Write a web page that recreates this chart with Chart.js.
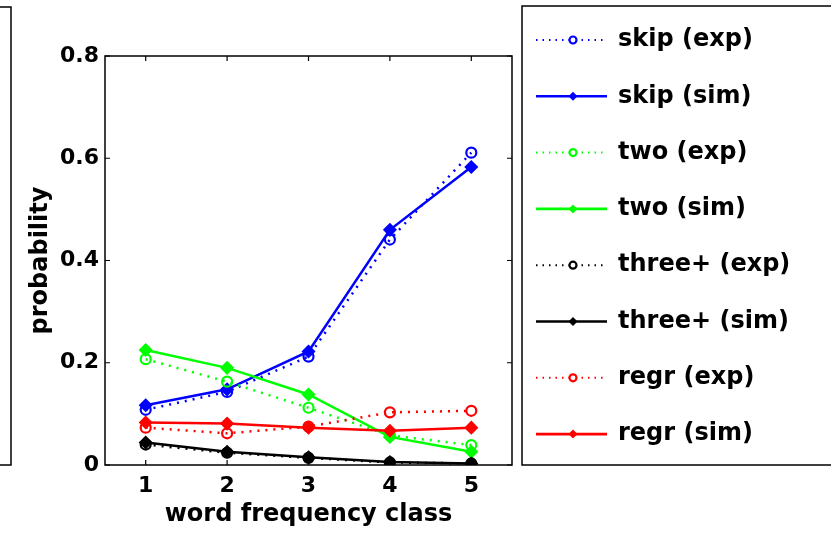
<!DOCTYPE html>
<html>
<head>
<meta charset="utf-8">
<script src="https://cdn.jsdelivr.net/npm/chart.js@4/dist/chart.umd.min.js"></script>
<style>
  html, body { margin: 0; padding: 0; background: #fff; }
  #wrap { width: 831px; height: 534px; position: relative; }
</style>
</head>
<body>
<div id="wrap"><canvas id="c" width="831" height="534"></canvas></div>
<script>
// word frequency classes and axis ticks
const categories = [1, 2, 3, 4, 5];
const yTicks = [0, 0.2, 0.4, 0.6, 0.8];

// probabilities per class: experiment vs simulation
const skipExp  = [0.108, 0.143, 0.212, 0.441, 0.611];
const skipSim  = [0.117, 0.148, 0.222, 0.460, 0.583];
const twoExp   = [0.207, 0.163, 0.112, 0.058, 0.039];
const twoSim   = [0.225, 0.190, 0.138, 0.055, 0.026];
const threeExp = [0.040, 0.024, 0.014, 0.005, 0.003];
const threeSim = [0.044, 0.026, 0.015, 0.006, 0.003];
const regrExp  = [0.073, 0.062, 0.075, 0.103, 0.106];
const regrSim  = [0.083, 0.081, 0.073, 0.067, 0.073];

const seriesLabels = ['skip (exp)', 'skip (sim)', 'two (exp)', 'two (sim)',
                      'three+ (exp)', 'three+ (sim)', 'regr (exp)', 'regr (sim)'];
const seriesValues = [skipExp, skipSim, twoExp, twoSim, threeExp, threeSim, regrExp, regrSim];
const seriesColors = ['#0000ff', '#0000ff', '#00ff00', '#00ff00', '#000000', '#000000', '#ff0000', '#ff0000'];

const FONT = '"DejaVu Sans", sans-serif';

const datasets = seriesValues.map((vals, i) => {
  const exp = i % 2 === 0;
  return {
    label: seriesLabels[i],
    data: categories.map((c, k) => ({ x: c, y: vals[k] })),
    borderColor: seriesColors[i],
    backgroundColor: exp ? 'rgba(0,0,0,0)' : seriesColors[i],
    borderWidth: 2.5,
    borderDash: exp ? [2, 6] : [],
    pointStyle: exp ? 'circle' : 'rectRot',
    pointRadius: exp ? 5 : 5.5,
    pointBorderWidth: 2.2,
    pointBorderColor: seriesColors[i],
    pointBackgroundColor: exp ? 'rgba(255,255,255,0)' : seriesColors[i],
    tension: 0,
    fill: false,
    order: seriesValues.length - i
  };
});

// frame, inward ticks, the neighbouring panel edge and the legend box
const framePlugin = {
  id: 'frame',
  afterDraw(chart) {
    const { ctx, chartArea: a, scales } = chart;
    ctx.save();
    ctx.strokeStyle = '#000';
    ctx.lineWidth = 1.5;
    ctx.strokeRect(a.left, a.top, a.right - a.left, a.bottom - a.top);
    ctx.lineWidth = 1.2;
    const tl = 5;
    scales.x.ticks.forEach(t => {
      const px = scales.x.getPixelForValue(t.value);
      ctx.beginPath();
      ctx.moveTo(px, a.bottom); ctx.lineTo(px, a.bottom - tl);
      ctx.moveTo(px, a.top); ctx.lineTo(px, a.top + tl);
      ctx.stroke();
    });
    scales.y.ticks.forEach(t => {
      const py = scales.y.getPixelForValue(t.value);
      ctx.beginPath();
      ctx.moveTo(a.left, py); ctx.lineTo(a.left + tl, py);
      ctx.moveTo(a.right, py); ctx.lineTo(a.right - tl, py);
      ctx.stroke();
    });

    // edge of the panel to the left
    ctx.lineWidth = 1.5;
    ctx.strokeRect(-10, 7, 21, a.bottom - 7);

    // legend
    const lx = 522, ly = 6;
    ctx.strokeRect(lx, ly, 400, a.bottom - ly);
    const rowY0 = 40, rowStep = 56.3;
    chart.data.datasets.forEach((ds, i) => {
      const y = rowY0 + i * rowStep;
      ctx.save();
      ctx.strokeStyle = ds.borderColor;
      ctx.lineWidth = ds.borderDash.length ? 2 : 2.6;
      ctx.setLineDash(ds.borderDash.length ? [1.5, 5] : []);
      ctx.beginPath();
      ctx.moveTo(536, y); ctx.lineTo(607, y);
      ctx.stroke();
      ctx.setLineDash([]);
      if (ds.pointStyle === 'circle') {
        ctx.fillStyle = '#fff';
        ctx.beginPath();
        ctx.arc(573, y, 3.5, 0, Math.PI * 2);
        ctx.fill();
        ctx.lineWidth = 2.2;
        ctx.stroke();
      } else {
        ctx.fillStyle = ds.borderColor;
        ctx.beginPath();
        ctx.moveTo(573, y - 4.5); ctx.lineTo(577.5, y);
        ctx.lineTo(573, y + 4.5); ctx.lineTo(568.5, y);
        ctx.closePath();
        ctx.fill();
      }
      ctx.fillStyle = '#000';
      ctx.font = 'bold 24px ' + FONT;
      ctx.textBaseline = 'middle';
      ctx.textAlign = 'left';
      ctx.fillText(ds.label, 618, y);
      ctx.restore();
    });
    ctx.restore();
  }
};

new Chart(document.getElementById('c'), {
  type: 'line',
  data: { datasets },
  options: {
    responsive: false,
    animation: false,
    events: [],
    layout: { padding: { left: 0, top: 56, right: 319, bottom: 0 } },
    plugins: { legend: { display: false }, tooltip: { enabled: false } },
    scales: {
      x: {
        type: 'linear',
        min: 0.5, max: 5.5,
        afterBuildTicks(scale) { scale.ticks = categories.map(v => ({ value: v })); },
        afterFit(scale) { scale.height = 69; },
        grid: { display: false, drawTicks: false },
        border: { display: false },
        ticks: { color: '#000', padding: 8, font: { family: FONT, size: 22, weight: 'bold' } },
        title: {
          display: true, text: 'word frequency class', color: '#000',
          font: { family: FONT, size: 24, weight: 'bold' },
          padding: { top: 0, bottom: 5 }
        }
      },
      y: {
        min: 0, max: 0.8,
        afterBuildTicks(scale) { scale.ticks = yTicks.map(v => ({ value: v })); },
        afterFit(scale) { scale.width = 105; },
        grid: { display: false, drawTicks: false },
        border: { display: false },
        ticks: {
          color: '#000', padding: 6,
          font: { family: FONT, size: 22, weight: 'bold' },
          callback: v => (v === 0 ? '0' : v.toFixed(1))
        },
        title: {
          display: true, text: 'probability', color: '#000',
          font: { family: FONT, size: 24, weight: 'bold' },
          padding: { top: 26, bottom: 0 }
        }
      }
    }
  },
  plugins: [framePlugin]
});
</script>
</body>
</html>
